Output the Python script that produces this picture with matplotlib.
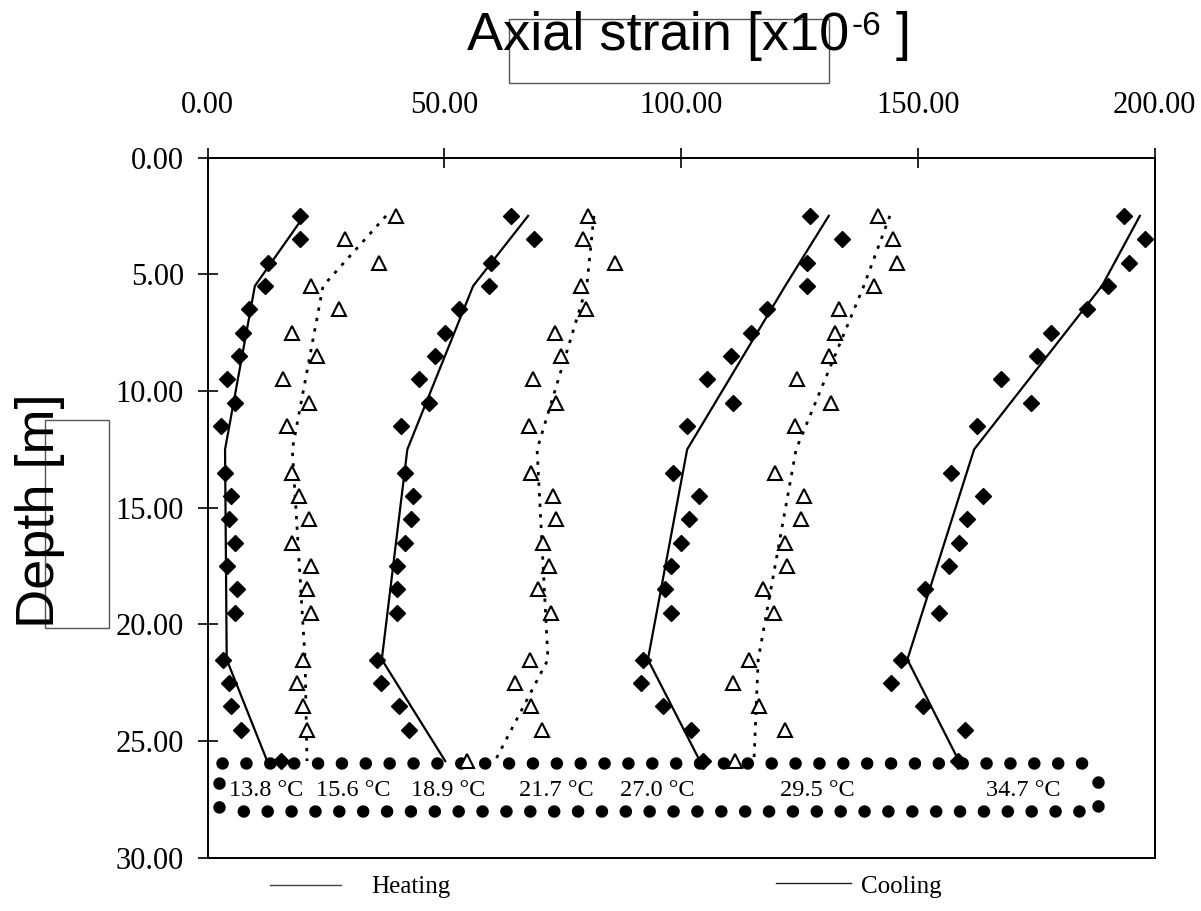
import numpy as np
import matplotlib
matplotlib.use("Agg")
from matplotlib import pyplot as plt
from matplotlib.lines import Line2D
from matplotlib.patches import Rectangle
from matplotlib.transforms import offset_copy

# depths of the gauges [m]
depth = [2.5, 3.5, 4.5, 5.5, 6.5, 7.5, 8.5, 9.5, 10.5, 11.5, 13.5, 14.5, 15.5,
         16.5, 17.5, 18.5, 19.5, 21.5, 22.5, 23.5, 24.5, 25.85]

# measured axial strain [x10^-6]
heat_138 = [19.5, 19.5, 12.8, 12.1, 8.8, 7.5, 6.7, 4.1, 5.8, 2.9, 3.7, 5.0, 4.5,
            5.8, 4.1, 6.2, 5.8, 3.2, 4.6, 5.0, 7.1, 15.5]
cool_156 = [39.8, 29.0, 36.2, 21.9, 27.8, 17.8, 23.1, 15.9, 21.4, 16.8, 17.8, 19.3, 21.4,
            17.8, 21.9, 21.0, 21.9, 20.2, 19.0, 20.2, 21.1, np.nan]
heat_189 = [64.1, 68.9, 59.9, 59.5, 53.1, 50.2, 48.0, 44.7, 46.8, 40.9, 41.7, 43.4, 43.0,
            41.7, 40.0, 40.0, 40.0, 35.7, 36.6, 40.4, 42.6, np.nan]
cool_217 = [80.4, 79.3, 86.1, 78.9, 79.9, 73.4, 74.7, 68.8, 73.7, 67.9, 68.3, 73.0, 73.7,
            70.8, 72.1, 69.7, 72.5, 68.0, 64.9, 68.3, 70.6, 54.7]
heat_270 = [127.2, 134.1, 126.5, 126.5, 118.1, 114.7, 110.5, 105.5, 110.9, 101.2, 98.3, 103.8, 101.7,
            100.0, 97.9, 96.6, 97.9, 92.0, 91.6, 96.2, 102.1, 104.6]
cool_295 = [141.7, 144.7, 145.6, 140.8, 133.3, 132.5, 131.2, 124.4, 131.6, 124.0, 119.9, 126.0, 125.3,
            121.9, 122.3, 117.3, 119.7, 114.3, 111.0, 116.5, 121.9, 111.4]
heat_347 = [193.5, 198.0, 194.6, 190.2, 185.7, 178.1, 175.1, 167.6, 173.9, 162.5, 157.0, 163.8, 160.4,
            158.7, 156.6, 151.6, 154.4, 146.4, 144.4, 151.1, 160.0, 158.5]

# calculated profiles
fit_depth = [2.5, 5.5, 12.5, 21.5, 25.85]
fit_h138 = [20.4, 10.0, 3.7, 4.05, 12.6]
fit_c156 = [37.7, 24.4, 17.9, 20.6, 21.0]
fit_h189 = [67.7, 56.1, 42.2, 36.8, 50.2]
fit_c217 = [81.6, 80.1, 69.6, 71.9, 60.7]
fit_h270 = [131.2, 122.0, 101.3, 93.0, 104.0]
fit_c295 = [144.1, 138.6, 124.3, 116.3, 115.4]
fit_h347 = [196.9, 188.9, 161.9, 147.8, 158.7]

temp_labels = ["13.8 °C", "15.6 °C", "18.9 °C", "21.7 °C", "27.0 °C", "29.5 °C", "34.7 °C"]
temp_x = [12.4, 30.7, 50.8, 73.6, 94.9, 128.7, 172.2]
temp_depth = 27.09

# dotted outline around the temperature labels: top, right, bottom, left runs
frame_x = [[3.06, 186.5], [188.0, 188.0], [184.0, 5.4], [2.43, 2.43]]
frame_y = [[25.93, 25.93], [26.74, 27.92], [27.99, 27.99], [26.79, 27.97]]

xticks = [0, 50, 100, 150, 200]
yticks = [0, 5, 10, 15, 20, 25, 30]

serif = "Liberation Serif"
sans = "Liberation Sans"
plt.rcParams['font.family'] = [serif, 'DejaVu Sans']

fig = plt.figure(figsize=(12.01, 9.11), dpi=100)
ax = fig.add_axes([0.1728, 0.0582, 0.7885, 0.7689])

for fx, fy in zip(frame_x, frame_y):
    ax.plot(fx, fy, color='black', lw=9.0, linestyle=(0, (0.01, 1.9)),
            dash_capstyle='round', zorder=1, clip_on=False)

heating = [(heat_138, fit_h138), (heat_189, fit_h189), (heat_270, fit_h270), (heat_347, fit_h347)]
cooling = [(cool_156, fit_c156), (cool_217, fit_c217), (cool_295, fit_c295)]
for meas, fit in heating:
    ax.plot(fit, fit_depth, color='black', lw=1.6, zorder=2, clip_on=False)
    ax.plot(meas, depth, linestyle='none', marker='D', markersize=8.5,
            color='black', zorder=3, clip_on=False)
for meas, fit in cooling:
    ax.plot(fit, fit_depth, color='black', lw=2.0, linestyle=(0, (1.2, 2.6)), zorder=2, clip_on=False)
    ax.plot(meas, depth, linestyle='none', marker='^', markersize=10.5,
            markerfacecolor='white', markeredgecolor='black', markeredgewidth=1.5,
            zorder=3, clip_on=False)

for lbl, x in zip(temp_labels, temp_x):
    ax.text(x, temp_depth, lbl, fontsize=17.5, ha='center', va='center', family=serif)

ax.set_xlim(0, 200)
ax.set_ylim(30, 0)
ax.xaxis.tick_top()
ax.set_xticks(xticks)
ax.set_yticks(yticks)
ax.set_xticklabels(["{0:.2f}".format(v) for v in xticks])
ax.set_yticklabels(["{0:.2f}".format(v) for v in yticks])
ax.tick_params(axis='both', direction='inout', length=14, width=1.2, labelsize=22)
ax.tick_params(axis='x', pad=20)
ax.tick_params(axis='y', pad=10)
for s in ax.spines.values():
    s.set_linewidth(1.4)

# title made of pieces so the exponent stays small
renderer = fig.canvas.get_renderer()
t1 = fig.text(467 / 1201, 1 - 50 / 911, "Axial strain [x10", fontsize=39,
              family=sans, ha='left', va='baseline')
w1 = t1.get_window_extent(renderer).width
t2 = fig.text(467 / 1201, 1 - 50 / 911, "-6", fontsize=24, family=sans, ha='left', va='baseline',
              transform=offset_copy(fig.transFigure, fig=fig, x=w1 + 2, y=15, units='dots'))
w2 = t2.get_window_extent(renderer).width
fig.text(467 / 1201, 1 - 50 / 911, " ]", fontsize=39, family=sans, ha='left', va='baseline',
         transform=offset_copy(fig.transFigure, fig=fig, x=w1 + w2 + 2, y=0, units='dots'))
fig.text(40 / 1201, 1 - 511 / 911, "Depth [m]", fontsize=39, family=sans,
         rotation=90, ha='center', va='center')

# thin boxes around the axis titles
fig.patches.append(Rectangle((509 / 1201, 1 - 83 / 911), 320 / 1201, 64 / 911,
                             transform=fig.transFigure, fill=False, lw=1.0, ec='#555555'))
fig.patches.append(Rectangle((45 / 1201, 1 - 628 / 911), 64 / 1201, 208 / 911,
                             transform=fig.transFigure, fill=False, lw=1.0, ec='#555555'))

# legend
fig.lines.append(Line2D([270 / 1201, 341 / 1201], [1 - 885 / 911] * 2,
                        transform=fig.transFigure, color='#444444', lw=1.0))
fig.lines.append(Line2D([776 / 1201, 851 / 1201], [1 - 883 / 911] * 2,
                        transform=fig.transFigure, color='#222222', lw=1.0))
fig.text(371 / 1201, 1 - 887 / 911, "Heating", fontsize=18, family=serif, ha='left', va='center')
fig.text(861 / 1201, 1 - 887 / 911, "Cooling", fontsize=18, family=serif, ha='left', va='center')

plt.savefig("out.png", dpi=100)
